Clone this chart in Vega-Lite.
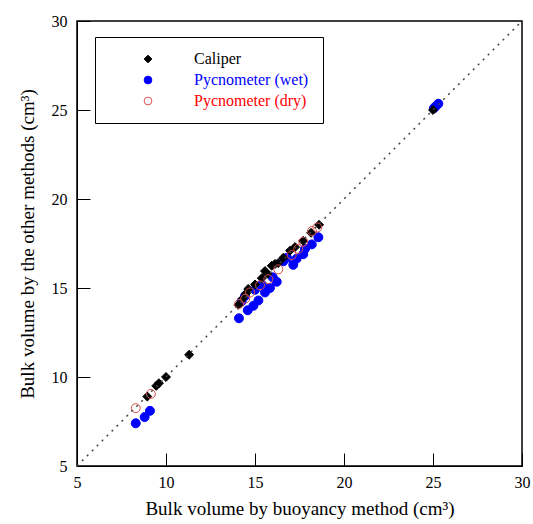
{
  "$schema": "https://vega.github.io/schema/vega-lite/v6.json",
  "width": 445,
  "height": 445,
  "autosize": "none",
  "padding": {"left": 77, "top": 21, "right": 11, "bottom": 58},
  "background": "white",
  "config": {
    "view": {"stroke": "black", "strokeWidth": 1.5},
    "font": "Liberation Serif",
    "axis": {
      "labelFontSize": 16,
      "titleFontSize": 19,
      "titleFontWeight": "normal",
      "labelColor": "black",
      "titleColor": "black",
      "domainColor": "black",
      "tickColor": "black",
      "grid": false,
      "labelFlush": false,
      "labelOverlap": false,
      "zindex": 1
    },
    "legend": {"labelFontSize": 16}
  },
  "encoding": {
    "x": {
      "field": "x",
      "type": "quantitative",
      "scale": {"domain": [5, 30], "nice": false, "zero": false},
      "axis": {
        "values": [5, 10, 15, 20, 25, 30],
        "tickSize": -13,
        "labelPadding": 21,
        "titleFont": "Liberation Serif",
        "title": "Bulk volume by buoyancy method (cm³)",
        "titlePadding": 9
      }
    },
    "y": {
      "field": "y",
      "type": "quantitative",
      "scale": {"domain": [5, 30], "nice": false, "zero": false},
      "axis": {
        "values": [5, 10, 15, 20, 25, 30],
        "tickSize": -13,
        "labelPadding": 23,
        "titleFont": "Liberation Serif",
        "title": "Bulk volume by the other methods (cm³)",
        "titlePadding": 14
      }
    }
  },
  "layer": [
    {
      "data": {
        "values": [
          {"method": "Pycnometer (wet)", "x": 8.3, "y": 7.4},
          {"method": "Pycnometer (wet)", "x": 8.8, "y": 7.75},
          {"method": "Pycnometer (wet)", "x": 9.1, "y": 8.1},
          {"method": "Pycnometer (wet)", "x": 14.1, "y": 13.3},
          {"method": "Pycnometer (wet)", "x": 14.25, "y": 14.25},
          {"method": "Pycnometer (wet)", "x": 14.44, "y": 14.55},
          {"method": "Pycnometer (wet)", "x": 14.59, "y": 13.75},
          {"method": "Pycnometer (wet)", "x": 14.91, "y": 14.0},
          {"method": "Pycnometer (wet)", "x": 15.0, "y": 14.9},
          {"method": "Pycnometer (wet)", "x": 15.19, "y": 14.3},
          {"method": "Pycnometer (wet)", "x": 15.38, "y": 15.2},
          {"method": "Pycnometer (wet)", "x": 15.56, "y": 14.75},
          {"method": "Pycnometer (wet)", "x": 15.84, "y": 15.0},
          {"method": "Pycnometer (wet)", "x": 16.0, "y": 15.6},
          {"method": "Pycnometer (wet)", "x": 16.22, "y": 15.35},
          {"method": "Pycnometer (wet)", "x": 16.59, "y": 16.5},
          {"method": "Pycnometer (wet)", "x": 16.8, "y": 16.7},
          {"method": "Pycnometer (wet)", "x": 17.15, "y": 16.3},
          {"method": "Pycnometer (wet)", "x": 17.34, "y": 16.65},
          {"method": "Pycnometer (wet)", "x": 17.71, "y": 16.9},
          {"method": "Pycnometer (wet)", "x": 17.81, "y": 17.2},
          {"method": "Pycnometer (wet)", "x": 18.19, "y": 17.45},
          {"method": "Pycnometer (wet)", "x": 18.56, "y": 17.85},
          {"method": "Pycnometer (wet)", "x": 25.05, "y": 25.1},
          {"method": "Pycnometer (wet)", "x": 25.15, "y": 25.2},
          {"method": "Pycnometer (wet)", "x": 25.3, "y": 25.35},
          {"method": "Caliper", "x": 8.95, "y": 8.9},
          {"method": "Caliper", "x": 9.45, "y": 9.5},
          {"method": "Caliper", "x": 9.6, "y": 9.65},
          {"method": "Caliper", "x": 10.0, "y": 10.0},
          {"method": "Caliper", "x": 11.3, "y": 11.25},
          {"method": "Caliper", "x": 14.06, "y": 14.05},
          {"method": "Caliper", "x": 14.3, "y": 14.4},
          {"method": "Caliper", "x": 14.5, "y": 14.7},
          {"method": "Caliper", "x": 14.62, "y": 14.95},
          {"method": "Caliper", "x": 15.0, "y": 15.2},
          {"method": "Caliper", "x": 15.38, "y": 15.55},
          {"method": "Caliper", "x": 15.56, "y": 15.95},
          {"method": "Caliper", "x": 15.7, "y": 15.8},
          {"method": "Caliper", "x": 15.94, "y": 16.25},
          {"method": "Caliper", "x": 16.12, "y": 16.35},
          {"method": "Caliper", "x": 16.3, "y": 16.4},
          {"method": "Caliper", "x": 16.59, "y": 16.7},
          {"method": "Caliper", "x": 16.97, "y": 17.1},
          {"method": "Caliper", "x": 17.25, "y": 17.3},
          {"method": "Caliper", "x": 17.71, "y": 17.65},
          {"method": "Caliper", "x": 18.15, "y": 18.1},
          {"method": "Caliper", "x": 18.6, "y": 18.55},
          {"method": "Caliper", "x": 25.0, "y": 25.0},
          {"method": "Pycnometer (dry)", "x": 8.3, "y": 8.25},
          {"method": "Pycnometer (dry)", "x": 9.15, "y": 9.05},
          {"method": "Pycnometer (dry)", "x": 14.1, "y": 14.1},
          {"method": "Pycnometer (dry)", "x": 14.45, "y": 14.4},
          {"method": "Pycnometer (dry)", "x": 14.72, "y": 14.75},
          {"method": "Pycnometer (dry)", "x": 15.28, "y": 15.15},
          {"method": "Pycnometer (dry)", "x": 15.75, "y": 15.5},
          {"method": "Pycnometer (dry)", "x": 16.31, "y": 16.05},
          {"method": "Pycnometer (dry)", "x": 17.06, "y": 16.85},
          {"method": "Pycnometer (dry)", "x": 17.43, "y": 17.2},
          {"method": "Pycnometer (dry)", "x": 17.71, "y": 17.6},
          {"method": "Pycnometer (dry)", "x": 18.2, "y": 18.2},
          {"method": "Pycnometer (dry)", "x": 18.5, "y": 18.4}
        ]
      },
      "mark": {"type": "point", "strokeWidth": 1, "opacity": 1, "size": 80},
      "encoding": {
        "shape": {
          "field": "method",
          "type": "nominal",
          "scale": {"domain": ["Caliper", "Pycnometer (wet)", "Pycnometer (dry)"], "range": ["diamond", "circle", "circle"]},
          "legend": {
            "orient": "none",
            "legendX": 18,
            "legendY": 16,
            "title": null,
            "strokeColor": "black",
            "fillColor": "white",
            "padding": 14,
            "symbolSize": 60,
            "symbolStrokeWidth": 1,
            "rowPadding": 5,
            "symbolOffset": 31,
            "labelOffset": 38,
            "labelFont": "Liberation Serif",
            "labelColor": {"expr": "datum.label === 'Caliper' ? 'black' : datum.label === 'Pycnometer (wet)' ? 'blue' : 'red'"}
          }
        },
        "fill": {
          "field": "method",
          "type": "nominal",
          "scale": {"domain": ["Caliper", "Pycnometer (wet)", "Pycnometer (dry)"], "range": ["black", "blue", "transparent"]}
        },
        "stroke": {
          "field": "method",
          "type": "nominal",
          "scale": {"domain": ["Caliper", "Pycnometer (wet)", "Pycnometer (dry)"], "range": ["black", "blue", "#e05050"]}
        }
      }
    },
    {
      "data": {"values": [{"x": 5, "y": 5}, {"x": 30, "y": 30}]},
      "mark": {"type": "line", "strokeDash": [2, 5], "color": "#444444", "strokeWidth": 1.5},
      "encoding": {}
    }
  ]
}
